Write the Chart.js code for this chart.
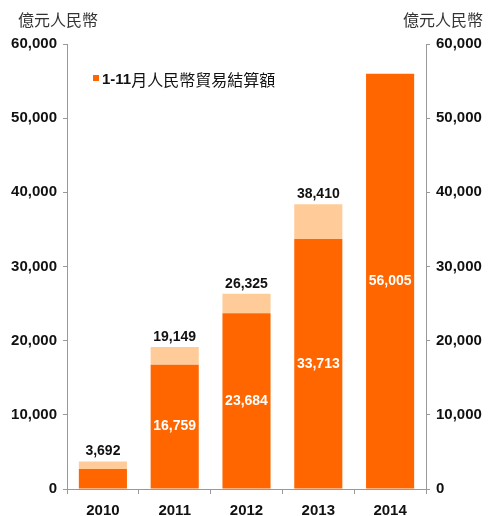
<!DOCTYPE html>
<html>
<head>
<meta charset="utf-8">
<script src="https://cdn.jsdelivr.net/npm/chart.js@4"></script>
<style>
  body { margin: 0; background: #fff; }
</style>
</head>
<body>
<canvas id="chart" width="488" height="516"></canvas>
<script>
const years = ['2010', '2011', '2012', '2013', '2014'];
// 1-11月 values (2010 read off the bar, not labelled in the source)
const janNov = [2700, 16759, 23684, 33713, 56005];
const showInside = [false, true, true, true, true];
// full year totals (2014 not available)
const fullYear = [3692, 19149, 26325, 38410, null];
const yTicks = [0, 10000, 20000, 30000, 40000, 50000, 60000];

const ORANGE = '#ff6600';
const PEACH = '#ffcc99';
const cjk = '"Noto Sans CJK TC", "Noto Sans CJK SC", sans-serif';
const latin = '"Liberation Sans", Arial, sans-serif';

const rest = fullYear.map((t, i) => t == null ? null : t - janNov[i]);
const fmt = v => v.toLocaleString('en-US');

const extras = {
  id: 'extras',
  afterDatasetsDraw(chart) {
    const ctx = chart.ctx;
    const m0 = chart.getDatasetMeta(0);
    const m1 = chart.getDatasetMeta(1);
    ctx.save();
    ctx.textAlign = 'center';
    ctx.textBaseline = 'middle';
    ctx.font = 'bold 14px ' + latin;
    years.forEach((y, i) => {
      const b = m0.data[i];
      if (showInside[i]) {
        ctx.fillStyle = '#fff';
        ctx.fillText(fmt(janNov[i]), b.x, (b.y + b.base) / 2);
      }
      if (fullYear[i] != null) {
        const top = m1.data[i];
        ctx.fillStyle = '#111';
        ctx.fillText(fmt(fullYear[i]), top.x, top.y - 10);
      }
    });
    // axis titles
    ctx.fillStyle = '#333';
    ctx.font = '16px ' + cjk;
    ctx.textAlign = 'left';
    ctx.fillText('億元人民幣', 18, 20);
    ctx.textAlign = 'right';
    ctx.fillText('億元人民幣', 483, 20);
    // legend
    ctx.fillStyle = ORANGE;
    ctx.fillRect(93, 75, 6, 6);
    ctx.textAlign = 'left';
    ctx.fillStyle = '#111';
    ctx.font = 'bold 15px ' + latin;
    ctx.fillText('1-11', 102, 80);
    const w = ctx.measureText('1-11').width;
    ctx.font = '16px ' + cjk;
    ctx.fillText('月人民幣貿易結算額', 102 + w, 80);
    ctx.restore();
  }
};

const tickFont = { family: latin, size: 15, weight: 'bold' };

new Chart(document.getElementById('chart'), {
  type: 'bar',
  data: {
    labels: years,
    datasets: [
      { label: '1-11月人民幣貿易結算額', data: janNov, backgroundColor: ORANGE,
        categoryPercentage: 1, barPercentage: 0.67, yAxisID: 'y' },
      { label: 'full year', data: rest, backgroundColor: PEACH,
        categoryPercentage: 1, barPercentage: 0.67, yAxisID: 'y' }
    ]
  },
  options: {
    responsive: false,
    animation: false,
    layout: { padding: { top: 44, left: 0, right: 0, bottom: 0 } },
    plugins: { legend: { display: false }, tooltip: { enabled: false } },
    scales: {
      x: {
        stacked: true,
        grid: { offset: true, drawOnChartArea: false, color: '#999', tickLength: 5 },
        border: { color: '#999' },
        ticks: { color: '#111', font: tickFont, padding: 8 },
        afterFit: s => { s.height = 27; }
      },
      y: {
        stacked: true,
        position: 'left',
        min: 0, max: 60000,
        afterBuildTicks: s => { s.ticks = yTicks.map(v => ({ value: v })); },
        grid: { drawOnChartArea: false, color: '#999', tickLength: 4 },
        border: { color: '#999' },
        ticks: { color: '#111', font: tickFont, padding: 6, callback: v => fmt(v) },
        afterFit: s => { s.width = 67; }
      },
      y2: {
        position: 'right',
        min: 0, max: 60000,
        afterBuildTicks: s => { s.ticks = yTicks.map(v => ({ value: v })); },
        grid: { drawOnChartArea: false, color: '#999', tickLength: 4 },
        border: { color: '#999' },
        ticks: { color: '#111', font: tickFont, padding: 6, callback: v => fmt(v) },
        afterFit: s => { s.width = 62; }
      }
    }
  },
  plugins: [extras]
});
</script>
</body>
</html>
